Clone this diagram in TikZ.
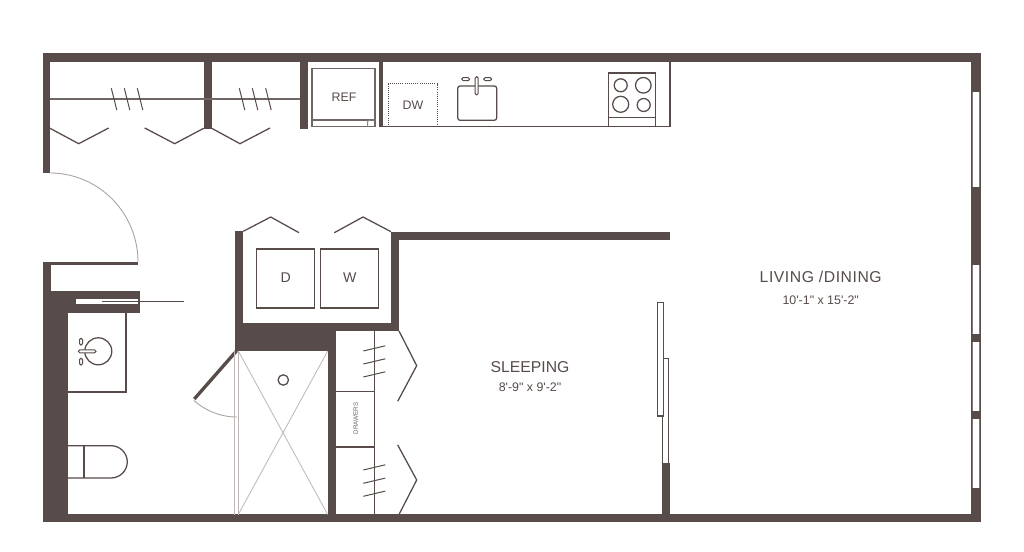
\documentclass[tikz,border=0pt]{standalone}
\usepackage{fontspec}
\newfontfamily\labfont{Liberation Sans}
\newfontfamily\labwide[LetterSpace=3.5]{Liberation Sans}
\definecolor{dark}{HTML}{574C4A}
\definecolor{pale}{HTML}{BDB8B6}
\definecolor{winline}{HTML}{857B79}
\tikzset{
  wall/.style={fill=dark,draw=none},
  ln/.style={draw=dark,line width=0.95pt},
  thin ln/.style={draw=dark,line width=0.75pt},
  pale ln/.style={draw=pale,line width=0.6pt},
  win/.style={fill=white,draw=none},
  winedge/.style={draw=winline,line width=0.9pt},
  lab/.style={text=dark,inner sep=0pt,font=\labfont},
}
\begin{document}
\begin{tikzpicture}[x=0.75pt,y=-0.75pt]
\useasboundingbox[fill=white] (0,0) rectangle (1024,552);
% outer walls
\fill[wall] (42.5,53.5) rectangle (980.7,61.7);
\fill[wall] (42.5,53.5) rectangle (50,172.7);
\fill[wall] (43,514.3) rectangle (980.7,522.3);
\fill[wall] (971.3,53.5) rectangle (980.7,522.3);
% windows
\foreach \a/\b in {92.3/187,265.3/334,342/411,419/488}{
  \fill[win] (972,\a) rectangle (979,\b);
  \draw[winedge] (979.6,\a) -- (979.6,\b);
  \draw[draw=winline,line width=0.5pt] (971.9,\a) -- (971.9,\b);
}
% closet walls
\fill[wall] (203.7,61) rectangle (211.7,129);
\fill[wall] (300,61) rectangle (308,129);
\fill[wall] (379.3,61) rectangle (383.3,127);
% bath walls
\fill[wall] (43,261.7) rectangle (138,264.8);
\fill[wall] (43,261.7) rectangle (51.3,291);
\fill[wall] (43,290.7) rectangle (140,312.7);
\fill[wall] (43,290.7) rectangle (68,522.3);
\fill[win] (75.7,299.3) rectangle (138.3,304.3);
% laundry and central walls
\fill[wall] (235,231.2) rectangle (243.3,351);
\fill[wall] (391,231.7) rectangle (399,331.3);
\fill[wall] (391,231.7) rectangle (670,239.7);
\fill[wall] (235,323.3) rectangle (399,331.3);
\fill[wall] (235,323.3) rectangle (335.7,351);
\fill[wall] (327.7,331) rectangle (335.7,515);
\fill[wall] (661.7,463) rectangle (669.7,515);
% pocket door
\draw[thin ln,line width=1pt] (101.7,301.7) -- (184.3,301.7);
% rods and hangers
\draw[ln,draw=dark!85] (50,99) -- (300,99);
\foreach \a in {111.3,124.3,137.3,239.3,252.3,265.7}{
  \draw[thin ln] (\a,88.3) -- ({\a+5.5},110);
}
% closet doors
\draw[ln] (50,128.3) -- (78.7,143.7) -- (108.7,128);
\draw[ln] (144.7,128) -- (174.7,143.7) -- (203.7,128.3);
\draw[ln] (211.7,128.3) -- (240,143.7) -- (270,128);
\draw[ln] (243.3,231.3) -- (270.7,217) -- (299,232.7);
\draw[ln] (334.3,232.7) -- (363,217) -- (391,231.7);
\draw[ln] (399,331) -- (416.7,365.7) -- (397.7,401.3);
\draw[ln] (397.7,445) -- (416.7,480) -- (399,514.5);
% entry door swing
\draw[draw=pale!80!dark,line width=0.65pt] plot[domain=-90:0,samples=50,smooth] ({50+88*cos(\x)},{262+89*sin(\x)});
% refrigerator
\draw[ln,draw=dark!85] (312,68.3) rectangle (375,126.7);
\draw[ln,draw=dark!85] (312,120) -- (375,120);
\draw[thin ln,draw=dark!70,rounded corners=1.5pt] (367.5,126.7) -- (367.5,120.2) -- (375,120.2);
\node[lab,font=\labfont\fontsize{9.3pt}{10pt}\selectfont] (ref) at (344,97) {REF};
% counter
\draw[ln] (379.5,126.8) -- (670,126.8) -- (670,61);
% dishwasher
\draw[draw=dark,line width=0.9pt,dash pattern=on 0.75pt off 0.85pt] (388.3,125) -- (388.3,83.7) -- (437.3,83.7) -- (437.3,125);
\node[lab,font=\labfont\fontsize{9.3pt}{10pt}\selectfont] (dw) at (413,105.3) {DW};
% kitchen sink
\draw[ln,rounded corners=1.8pt] (457.7,86) rectangle (496.7,120.3);
\draw[thin ln,fill=white,rounded corners=1.1pt] (475.2,76.7) rectangle (478.2,95);
\draw[thin ln,rounded corners=1.1pt] (461.7,77.7) rectangle (469.7,80.7);
\draw[thin ln,rounded corners=1.1pt] (483.7,77.7) rectangle (491.7,80.7);
% stove
\draw[ln] (608.3,126.8) -- (608.3,73) -- (655.3,73) -- (655.3,126.8);
\draw[ln] (608.3,117.7) -- (655.3,117.7);
\draw[ln] (620.7,85.3) circle[radius=6.5];
\draw[ln] (643.3,85.3) circle[radius=7.8];
\draw[ln] (620.7,104.3) circle[radius=8];
\draw[ln] (643.7,105) circle[radius=6.5];
% washer dryer
\draw[ln,line width=1.05pt] (256.7,249) rectangle (314.3,308);
\draw[ln,line width=1.05pt] (320.7,249) rectangle (378.3,308);
\node[lab,font=\labfont\fontsize{10.6pt}{11pt}\selectfont] (dryer) at (285.7,277.5) {D};
\node[lab,font=\labfont\fontsize{10.6pt}{11pt}\selectfont] (washer) at (349.7,277.5) {W};
% vanity
\draw[ln] (68,392) -- (126,392) -- (126,312);
\draw[ln] (98.3,351.3) circle[radius=13.5];
\draw[thin ln,fill=white,rounded corners=1.1pt] (78.3,349.8) rectangle (96,352.8);
\draw[thin ln,rounded corners=1pt] (79.5,338.3) rectangle (82.5,345);
\draw[thin ln,rounded corners=1pt] (79.5,358.3) rectangle (82.5,365);
% toilet
\draw[ln] (68,445.7) -- (111,445.7) .. controls (120,445.7) and (127.3,453) .. (127.3,461.8) .. controls (127.3,470.7) and (120,478) .. (111,478) -- (68,478);
\draw[ln] (84,445.7) -- (84,478);
% bath door
\draw[draw=pale!80!dark,line width=0.65pt] plot[domain=48.5:90,samples=30,smooth] ({237-65*cos(\x)},{351+66*sin(\x)});
\draw[draw=dark,line width=2.5pt] (236.7,350.7) -- (194.3,399);
% shower
\draw[pale ln,line width=0.8pt] (234.3,351) -- (234.3,514.5);
\draw[pale ln,line width=0.8pt] (238.3,351) -- (238.3,514.5);
\draw[pale ln] (238.3,351) -- (327.7,514.5);
\draw[pale ln] (327.7,351) -- (238.3,514.5);
\draw[ln] (283.3,380) circle[radius=5.2];
% wardrobes
\draw[ln] (374.3,331) -- (374.3,514.5);
\draw[ln] (335.7,391.7) -- (374.3,391.7);
\draw[ln] (335.7,447) -- (374.3,447);
\foreach \a in {351,364,377,470,483.3,496.3}{
  \draw[thin ln] (363.3,\a) -- (385.3,{\a-5.2});
}
\node[lab,rotate=90,text=dark!85,font=\labfont\fontsize{4.7pt}{5pt}\selectfont] (drawers) at (355.7,418.3) {DRAWERS};
% sliding door
\draw[ln] (657.7,302.3) rectangle (663.3,416);
\draw[ln] (663.3,358.3) -- (668.7,358.3) -- (668.7,463);
\draw[ln] (662.2,416) -- (662.2,463);
\draw[ln] (663.3,358.3) -- (663.3,416);
% room labels
\node[lab,font=\labfont\fontsize{11.8pt}{13pt}\selectfont] (sleeping) at (530,367.3) {SLEEPING};
\node[lab,font=\labfont\fontsize{9.3pt}{10pt}\selectfont] (sleepdim) at (530,387) {8'-9" x 9'-2"};
\node[lab,font=\labwide\fontsize{11.8pt}{13pt}\selectfont] (living) at (820.7,276.7) {LIVING /DINING};
\node[lab,font=\labfont\fontsize{9.3pt}{10pt}\selectfont] (livedim) at (820.7,300) {10'-1" x 15'-2"};
\end{tikzpicture}
\end{document}
